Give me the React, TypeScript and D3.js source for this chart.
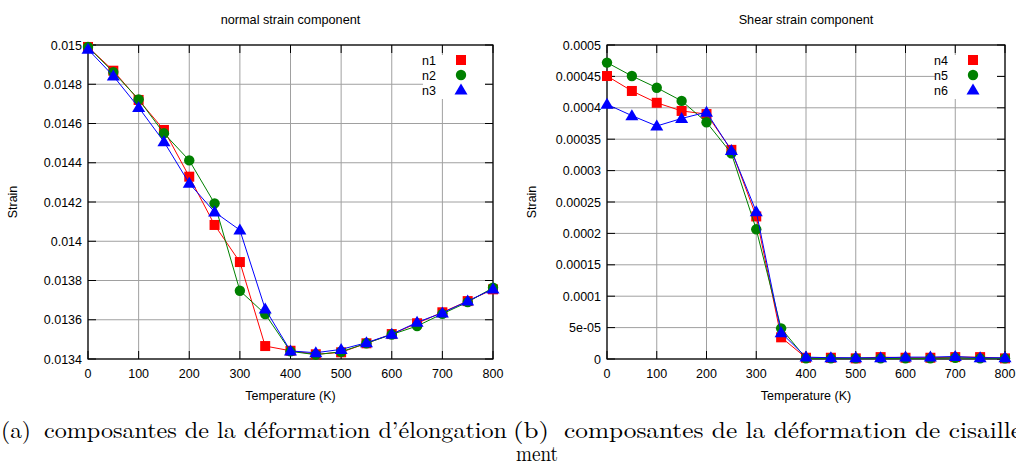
import React from "react";
import * as d3 from "d3";

const temps = [0, 50, 100, 150, 200, 250, 300, 350, 400, 450, 500, 550, 600, 650, 700, 750, 800];

const n1 = [0.01499, 0.014869, 0.01472, 0.014567, 0.014329, 0.014083, 0.013894, 0.013466, 0.013442, 0.013424, 0.013434, 0.01348, 0.013527, 0.013582, 0.013638, 0.013695, 0.013755];
const n2 = [0.01499, 0.014862, 0.014723, 0.01455, 0.014412, 0.014193, 0.013748, 0.013629, 0.013439, 0.013422, 0.013437, 0.01348, 0.013525, 0.013568, 0.01363, 0.01369, 0.013763];
const n3 = [0.014978, 0.014842, 0.014682, 0.014507, 0.014295, 0.014149, 0.014057, 0.013655, 0.013441, 0.013432, 0.013449, 0.013483, 0.013526, 0.013587, 0.013635, 0.013695, 0.013757];

const n4 = [0.0004506, 0.0004268, 0.000408, 0.000395, 0.00039, 0.000333, 0.000227, 0.0000345, 0.000002, 0.000002, 0.000001, 0.000003, 0.000002, 0.000002, 0.000003, 0.000003, 0.000001];
const n5 = [0.000472, 0.0004506, 0.000432, 0.000411, 0.000377, 0.0003275, 0.0002065, 0.0000488, 0.000001, 0.000001, 0.000001, 0.000001, 0.000001, 0.000001, 0.000002, 0.000001, 0.000001];
const n6 = [0.0004055, 0.0003875, 0.000371, 0.000383, 0.000393, 0.000332, 0.0002346, 0.0000419, 0.000003, 0.000002, 0.000002, 0.000002, 0.000003, 0.000003, 0.000004, 0.000002, 0.000002];

const xTicks = [0, 100, 200, 300, 400, 500, 600, 700, 800];
const leftYTicks = [0.0134, 0.0136, 0.0138, 0.014, 0.0142, 0.0144, 0.0146, 0.0148, 0.015];
const leftYLabels = ["0.0134", "0.0136", "0.0138", "0.014", "0.0142", "0.0144", "0.0146", "0.0148", "0.015"];
const rightYTicks = [0, 0.00005, 0.0001, 0.00015, 0.0002, 0.00025, 0.0003, 0.00035, 0.0004, 0.00045, 0.0005];
const rightYLabels = ["0", "5e-05", "0.0001", "0.00015", "0.0002", "0.00025", "0.0003", "0.00035", "0.0004", "0.00045", "0.0005"];

const leftSeries = [
  { name: "n1", values: n1, color: "#ff0000", shape: "square" },
  { name: "n2", values: n2, color: "#008000", shape: "circle" },
  { name: "n3", values: n3, color: "#0000ff", shape: "triangle" },
];
const rightSeries = [
  { name: "n4", values: n4, color: "#ff0000", shape: "square" },
  { name: "n5", values: n5, color: "#008000", shape: "circle" },
  { name: "n6", values: n6, color: "#0000ff", shape: "triangle" },
];

const FONT = "Liberation Sans, Arial, sans-serif";

function Marker({ shape, x, y, color }: { shape: string; x: number; y: number; color: string }) {
  if (shape === "square") return <rect x={x - 5} y={y - 5} width={10} height={10} fill={color} />;
  if (shape === "circle") return <circle cx={x} cy={y} r={5.2} fill={color} />;
  return <path d={`M${x},${y - 6.5} L${x + 6.5},${y + 4.5} L${x - 6.5},${y + 4.5} Z`} fill={color} />;
}

function Panel({ left, right, top, bottom, domain, yTicks, yLabels, series, title }: any) {
  const x = d3.scaleLinear().domain([0, 800]).range([left, right]);
  const y = d3.scaleLinear().domain(domain).range([bottom, top]);
  const line = d3.line<number>().x((_, i) => x(temps[i])).y((v) => y(v));
  const tick = 8;
  const legTextX = right - 57;
  const legMarkX = right - 32;
  const legY = [60, 75, 90];
  return (
    <g>
      <text x={(left + right) / 2} y={24} textAnchor="middle" fontFamily={FONT} fontSize={12.7} fill="#000">{title}</text>
      {xTicks.map((t) => (
        <line key={"gx" + t} x1={x(t)} x2={x(t)} y1={top} y2={bottom} stroke="#a0a0a0" strokeWidth={1} />
      ))}
      {yTicks.map((t: number) => (
        <line key={"gy" + t} x1={left} x2={right} y1={y(t)} y2={y(t)} stroke="#a0a0a0" strokeWidth={1} />
      ))}
      {xTicks.map((t) => (
        <g key={"tx" + t}>
          <line x1={x(t)} x2={x(t)} y1={bottom} y2={bottom - tick} stroke="#000" />
          <line x1={x(t)} x2={x(t)} y1={top} y2={top + tick} stroke="#000" />
          <text x={x(t)} y={378} textAnchor="middle" fontFamily={FONT} fontSize={12.5}>{t}</text>
        </g>
      ))}
      {yTicks.map((t: number, i: number) => (
        <g key={"ty" + t}>
          <line x1={left} x2={left + tick} y1={y(t)} y2={y(t)} stroke="#000" />
          <line x1={right} x2={right - tick} y1={y(t)} y2={y(t)} stroke="#000" />
          <text x={left - 6} y={y(t) + 4.5} textAnchor="end" fontFamily={FONT} fontSize={12.5}>{yLabels[i]}</text>
        </g>
      ))}
      <rect x={left} y={top} width={right - left} height={bottom - top} fill="none" stroke="#000" strokeWidth={1.2} />
      <text transform={`translate(${left - 71},${(top + bottom) / 2}) rotate(-90)`} textAnchor="middle" fontFamily={FONT} fontSize={12.5}>Strain</text>
      <text x={(left + right) / 2} y={400} textAnchor="middle" fontFamily={FONT} fontSize={12.5}>Temperature (K)</text>
      <rect x={right - 70} y={55} width={62} height={44} fill="#fff" />
      {series.map((s: any, k: number) => (
        <g key={s.name}>
          <text x={legTextX} y={legY[k] + 4.5} textAnchor="end" fontFamily={FONT} fontSize={12.5}>{s.name}</text>
          <Marker shape={s.shape} x={legMarkX} y={legY[k]} color={s.color} />
        </g>
      ))}
      {series.map((s: any) => (
        <g key={"s" + s.name}>
          <path d={line(s.values) || ""} fill="none" stroke={s.color} strokeWidth={1} />
          {s.values.map((v: number, i: number) => (
            <Marker key={i} shape={s.shape} x={x(temps[i])} y={y(v)} color={s.color} />
          ))}
        </g>
      ))}
    </g>
  );
}

export default function App() {
  const serif = "Latin Modern Roman, DejaVu Serif, Liberation Serif, serif";
  return (
    <svg width={1016} height={467} style={{ position: "absolute", left: 0, top: 0, background: "#fff" }} fontFamily={FONT}>
      <rect x={0} y={0} width={1016} height={467} fill="#fff" />
      <Panel left={88} right={493} top={45} bottom={359} domain={[0.0134, 0.015]} yTicks={leftYTicks} yLabels={leftYLabels} series={leftSeries} title="normal strain component" />
      <Panel left={607} right={1005} top={45} bottom={359} domain={[0, 0.0005]} yTicks={rightYTicks} yLabels={rightYLabels} series={rightSeries} title="Shear strain component" />
      <g fontFamily={serif} fontSize={22.5}>
        <text x={1} y={438} textLength={30} lengthAdjust="spacingAndGlyphs">(a)</text>
        <text x={44} y={438} textLength={463} lengthAdjust="spacingAndGlyphs">composantes de la déformation d’élongation</text>
        <text x={513} y={438} textLength={36} lengthAdjust="spacingAndGlyphs">(b)</text>
        <text x={564} y={438} textLength={458} lengthAdjust="spacingAndGlyphs">composantes de la déformation de cisaille</text>
        <text x={516} y={461} textLength={42} lengthAdjust="spacingAndGlyphs">ment</text>
      </g>
    </svg>
  );
}
